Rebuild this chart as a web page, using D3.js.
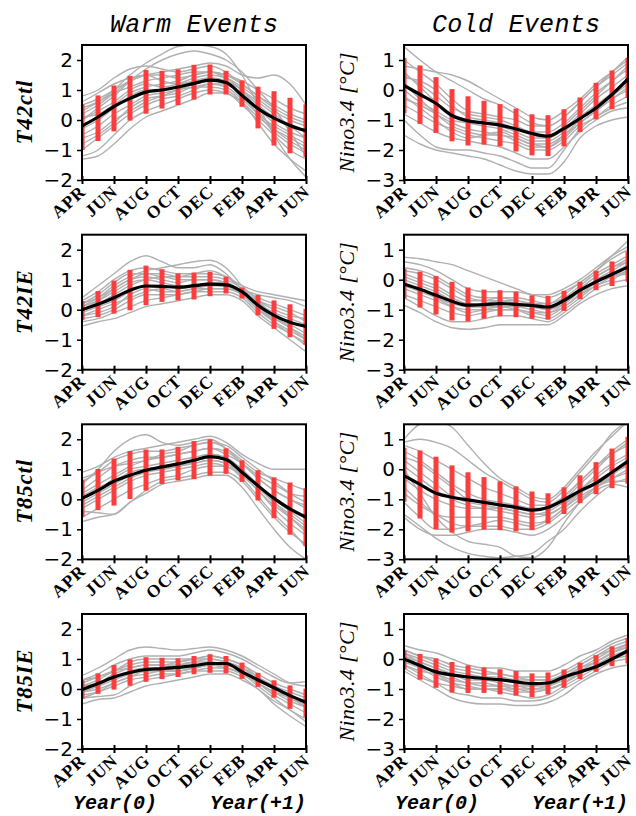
<!DOCTYPE html>
<html lang="en">
<head>
<meta charset="utf-8">
<title>Nino3.4 composites</title>
<script src="https://d3js.org/d3.v7.min.js"></script>
<style>
  body { margin: 0; background: #fff; }
  .tick text { font-family: "DejaVu Sans", sans-serif; }
</style>
</head>
<body>
<script>
// months from APR(0) to JUN(+1), one bar per month
var months = ["APR","MAY","JUN","JUL","AUG","SEP","OCT","NOV","DEC","JAN","FEB","MAR","APR","MAY","JUN"];
var tickLabels = ["APR","JUN","AUG","OCT","DEC","FEB","APR","JUN"];
var warmTicks = [-2, -1, 0, 1, 2];
var coldTicks = [-3, -2, -1, 0, 1];
var rowNames = ["T42ctl", "T42IE", "T85ctl", "T85IE"];
var colTitles = ["Warm Events", "Cold Events"];

// ---- T42ctl ----
var t42ctlWarmMean = [-0.2,0.1,0.45,0.72,0.93,1.0,1.1,1.22,1.33,1.25,0.82,0.38,0.06,-0.18,-0.36];
var t42ctlWarmHi   = [0.52,0.82,1.15,1.47,1.67,1.64,1.69,1.84,1.85,1.64,1.32,1.11,0.96,0.74,0.52];
var t42ctlWarmLo   = [-1.0,-0.7,-0.38,-0.02,0.21,0.38,0.5,0.68,0.85,0.85,0.44,-0.28,-0.85,-1.11,-1.24];
var t42ctlWarmMembers = [
  [0.3,0.6,1.0,1.5,1.9,2.2,2.45,2.5,2.45,2.2,1.5,0.5,-0.5,-1.3,-1.9],
  [0.5,0.7,1.0,1.3,1.5,1.6,1.7,1.8,1.9,1.8,1.5,1.4,1.5,1.2,0.5],
  [0.8,1.0,1.4,1.7,1.8,1.7,1.6,1.7,1.8,1.6,1.2,0.8,0.5,0.2,0.0],
  [-1.3,-1.2,-0.8,-0.3,0.1,0.3,0.5,0.7,0.9,0.9,0.5,0.0,-0.5,-1.0,-1.3],
  [-1.0,-0.6,-0.2,0.2,0.5,0.7,0.8,1.0,1.2,1.2,0.8,0.2,-0.4,-0.8,-1.1],
  [0.4,0.6,0.9,1.1,1.3,1.4,1.5,1.6,1.6,1.4,1.0,0.5,0.1,-0.2,-0.4],
  [-0.5,-0.2,0.2,0.5,0.8,0.9,1.0,1.2,1.3,1.2,0.9,0.4,-0.1,-0.4,-0.6],
  [0.0,0.3,0.6,1.0,1.2,1.1,1.2,1.4,1.5,1.4,1.1,0.7,0.3,0.0,-0.2],
  [-0.8,-0.5,-0.1,0.4,0.7,0.8,0.9,1.1,1.1,1.0,0.6,-0.1,-0.8,-1.3,-1.7],
  [0.2,0.5,0.9,1.3,1.5,1.3,1.2,1.3,1.4,1.3,1.0,0.6,0.2,-0.2,-0.6],
  [-0.3,0.0,0.4,0.8,1.0,1.0,1.1,1.3,1.4,1.3,1.0,0.3,-0.3,-0.7,-1.0],
  [0.6,0.9,1.2,1.4,1.5,1.5,1.4,1.5,1.6,1.5,1.3,1.0,0.7,0.4,0.2],
  [-1.2,-1.0,-0.5,0.0,0.3,0.5,0.7,0.9,1.0,0.9,0.6,0.1,-0.3,-0.6,-0.9],
  [0.0,0.4,0.8,1.3,1.7,2.0,2.2,2.3,2.2,2.0,1.6,1.0,0.4,-0.4,-1.2],
  [-0.6,-0.4,0.0,0.3,0.6,0.8,1.0,1.1,1.2,1.1,0.7,0.2,-0.2,-0.5,-0.8],
  [0.1,0.2,0.5,0.9,1.1,1.2,1.3,1.5,1.6,1.5,1.2,0.8,0.4,0.1,-0.1]
];
var t42ctlColdMean = [0.15,-0.15,-0.45,-0.85,-1.03,-1.1,-1.17,-1.3,-1.45,-1.54,-1.28,-0.95,-0.6,-0.15,0.37];
var t42ctlColdHi   = [1.07,0.82,0.43,0.03,-0.21,-0.36,-0.47,-0.62,-0.81,-0.84,-0.64,-0.25,0.24,0.65,1.07];
var t42ctlColdLo   = [-0.78,-1.13,-1.43,-1.71,-1.85,-1.82,-1.88,-2.05,-2.18,-2.2,-1.88,-1.4,-0.98,-0.64,-0.27];
var t42ctlColdMembers = [
  [1.45,1.0,0.6,0.3,0.0,-0.3,-0.5,-0.8,-1.1,-1.2,-0.9,-0.4,0.1,0.5,0.9],
  [0.8,0.7,0.6,0.5,0.3,0.0,-0.3,-0.6,-0.9,-1.0,-0.7,-0.3,0.2,0.6,1.0],
  [-1.5,-1.8,-2.0,-2.1,-2.2,-2.3,-2.5,-2.7,-2.8,-2.8,-2.4,-1.6,-1.2,-1.0,-0.9],
  [-1.0,-1.5,-1.9,-2.0,-2.0,-2.1,-2.2,-2.4,-2.6,-2.6,-2.0,-1.3,-0.9,-0.6,-0.4],
  [0.5,0.2,-0.2,-0.6,-0.8,-0.9,-1.0,-1.2,-1.4,-1.4,-1.1,-0.6,-0.1,0.3,0.7],
  [0.2,-0.3,-0.8,-1.2,-1.4,-1.5,-1.5,-1.7,-1.9,-1.9,-1.6,-1.1,-0.7,-0.3,0.1],
  [-0.5,-0.8,-1.1,-1.3,-1.5,-1.6,-1.7,-1.8,-2.0,-2.0,-1.7,-1.2,-0.9,-0.5,-0.2],
  [1.0,0.6,0.2,-0.3,-0.7,-0.8,-0.9,-1.0,-1.2,-1.2,-0.9,-0.4,0.1,0.6,1.1],
  [0.0,-0.4,-0.7,-1.0,-1.1,-1.2,-1.3,-1.5,-1.7,-1.7,-1.4,-0.9,-0.5,-0.1,0.3],
  [-0.2,-0.6,-1.0,-1.4,-1.6,-1.5,-1.4,-1.6,-1.8,-1.9,-1.5,-1.0,-0.6,-0.2,0.2],
  [0.4,0.3,0.0,-0.5,-0.9,-1.0,-1.1,-1.3,-1.5,-1.6,-1.3,-0.8,-0.3,0.1,0.5],
  [-0.8,-1.1,-1.4,-1.6,-1.7,-1.8,-1.9,-2.1,-2.3,-2.3,-1.9,-1.4,-1.0,-0.7,-0.6],
  [0.6,0.1,-0.4,-0.8,-1.0,-1.1,-1.2,-1.4,-1.6,-1.6,-1.2,-0.7,-0.2,0.3,0.8],
  [-0.3,-0.5,-0.8,-1.1,-1.3,-1.4,-1.5,-1.6,-1.8,-1.8,-1.5,-1.1,-0.7,-0.3,0.0]
];

// ---- T42IE ----
var t42ieWarmMean = [0.0,0.18,0.4,0.65,0.79,0.78,0.75,0.8,0.85,0.83,0.6,0.15,-0.19,-0.42,-0.56];
var t42ieWarmHi   = [0.29,0.62,0.97,1.33,1.47,1.35,1.21,1.24,1.26,1.1,0.74,0.49,0.31,0.18,0.03];
var t42ieWarmLo   = [-0.34,-0.25,-0.13,-0.02,0.15,0.26,0.31,0.34,0.45,0.54,0.37,-0.19,-0.64,-0.92,-1.17];
var t42ieWarmMembers = [
  [0.4,0.8,1.2,1.6,1.8,1.6,1.4,1.4,1.5,1.2,0.7,0.5,0.4,0.3,0.1],
  [0.1,0.4,0.8,1.1,1.3,1.4,1.5,1.6,1.65,1.4,0.8,0.3,-0.2,-0.6,-1.0],
  [-0.55,-0.4,-0.3,-0.1,0.1,0.2,0.3,0.4,0.5,0.5,0.3,-0.2,-0.6,-1.0,-1.4],
  [0.3,0.6,1.0,1.3,1.4,1.3,1.2,1.2,1.2,1.1,0.8,0.6,0.5,0.4,0.3],
  [-0.3,-0.2,0.0,0.3,0.5,0.5,0.5,0.6,0.7,0.7,0.5,0.0,-0.4,-0.7,-1.0],
  [0.2,0.4,0.7,1.0,1.1,1.0,0.9,1.0,1.0,0.9,0.6,0.2,-0.1,-0.3,-0.5],
  [-0.1,0.1,0.3,0.6,0.8,0.8,0.7,0.8,0.9,0.8,0.5,0.1,-0.3,-0.5,-0.8],
  [0.0,0.2,0.5,0.8,1.0,1.1,1.0,1.0,1.0,0.9,0.6,0.3,0.0,-0.2,-0.3],
  [-0.2,0.0,0.2,0.4,0.6,0.7,0.6,0.7,0.8,0.8,0.6,0.1,-0.4,-0.8,-1.1],
  [0.2,0.5,0.9,1.2,1.2,1.1,1.1,1.2,1.3,1.1,0.7,0.4,0.2,0.0,-0.2],
  [-0.4,-0.3,-0.1,0.1,0.3,0.4,0.5,0.6,0.6,0.6,0.4,-0.1,-0.5,-0.8,-1.2],
  [0.1,0.3,0.6,0.9,1.0,0.9,0.8,0.8,0.9,0.9,0.6,0.3,0.1,-0.1,-0.4],
  [0.0,0.3,0.7,1.0,1.2,1.2,1.1,1.1,1.1,1.0,0.7,0.2,-0.2,-0.4,-0.6],
  [-0.2,-0.1,0.1,0.5,0.7,0.6,0.6,0.7,0.7,0.7,0.5,0.0,-0.3,-0.6,-0.9]
];
var t42ieColdMean = [-0.15,-0.32,-0.52,-0.72,-0.85,-0.83,-0.8,-0.82,-0.86,-0.91,-0.69,-0.35,-0.07,0.18,0.42];
var t42ieColdHi   = [0.36,0.27,0.12,-0.07,-0.26,-0.33,-0.35,-0.4,-0.52,-0.54,-0.37,-0.07,0.3,0.61,0.94];
var t42ieColdLo   = [-0.63,-0.93,-1.16,-1.36,-1.39,-1.3,-1.22,-1.25,-1.3,-1.33,-1.04,-0.65,-0.35,-0.21,-0.07];
var t42ieColdMembers = [
  [0.75,0.7,0.6,0.5,0.3,0.1,-0.1,-0.3,-0.5,-0.6,-0.4,-0.1,0.3,0.8,1.3],
  [0.6,0.5,0.3,0.0,-0.3,-0.4,-0.4,-0.4,-0.5,-0.5,-0.3,0.0,0.4,0.8,1.1],
  [-0.85,-1.1,-1.4,-1.6,-1.65,-1.6,-1.5,-1.5,-1.5,-1.5,-1.2,-0.8,-0.5,-0.3,-0.2],
  [0.2,0.0,-0.2,-0.5,-0.7,-0.7,-0.6,-0.7,-0.8,-0.8,-0.6,-0.2,0.2,0.5,0.8],
  [-0.5,-0.7,-0.9,-1.1,-1.2,-1.1,-1.0,-1.0,-1.1,-1.2,-0.9,-0.5,-0.2,0.1,0.3],
  [0.0,-0.2,-0.4,-0.7,-0.9,-0.9,-0.8,-0.8,-0.9,-1.0,-0.8,-0.4,0.0,0.3,0.6],
  [-0.3,-0.5,-0.7,-0.9,-1.0,-1.0,-1.0,-1.0,-1.1,-1.1,-0.8,-0.4,-0.1,0.1,0.2],
  [0.3,0.2,0.0,-0.3,-0.6,-0.7,-0.7,-0.7,-0.8,-0.9,-0.7,-0.3,0.1,0.4,0.6],
  [-0.6,-0.9,-1.2,-1.4,-1.4,-1.3,-1.2,-1.2,-1.3,-1.4,-1.1,-0.7,-0.3,-0.1,0.0],
  [-0.1,-0.3,-0.6,-0.9,-1.1,-1.0,-0.9,-0.9,-1.0,-1.1,-0.9,-0.5,-0.1,0.2,0.5],
  [0.4,0.3,0.1,-0.2,-0.5,-0.6,-0.6,-0.6,-0.7,-0.8,-0.5,-0.1,0.3,0.7,1.0],
  [-0.2,-0.4,-0.6,-0.8,-0.9,-0.9,-0.9,-1.0,-1.2,-1.3,-1.0,-0.6,-0.2,0.0,0.3],
  [0.1,-0.1,-0.3,-0.6,-0.8,-0.8,-0.7,-0.8,-0.9,-1.0,-0.7,-0.3,0.1,0.4,0.7]
];

// ---- T85ctl ----
var t85ctlWarmMean = [0.03,0.3,0.6,0.8,0.97,1.08,1.18,1.3,1.42,1.33,0.9,0.45,0.03,-0.32,-0.6];
var t85ctlWarmHi   = [0.65,1.01,1.36,1.61,1.66,1.66,1.75,1.94,2.0,1.7,1.3,0.97,0.73,0.56,0.37];
var t85ctlWarmLo   = [-0.58,-0.36,-0.21,0.01,0.29,0.51,0.63,0.67,0.79,0.85,0.58,-0.04,-0.63,-1.18,-1.56];
var t85ctlWarmMembers = [
  [0.5,1.0,1.6,2.0,2.15,1.9,1.8,1.9,2.0,1.7,1.2,0.7,0.3,0.0,-0.3],
  [0.9,1.1,1.4,1.6,1.7,1.8,1.9,2.0,2.1,1.9,1.5,1.2,1.0,1.0,1.0],
  [-0.75,-0.6,-0.5,-0.1,0.2,0.5,0.6,0.7,0.8,0.8,0.4,-0.3,-1.0,-1.6,-2.0],
  [-0.4,-0.45,-0.5,-0.1,0.3,0.6,0.7,0.8,0.9,0.9,0.6,0.0,-0.6,-1.1,-1.5],
  [0.6,0.9,1.3,1.5,1.6,1.6,1.7,1.8,1.9,1.8,1.4,1.0,0.6,0.2,-0.1],
  [0.2,0.5,0.8,1.1,1.3,1.4,1.5,1.6,1.7,1.6,1.2,0.7,0.3,0.0,-0.2],
  [-0.3,0.0,0.3,0.6,0.8,0.9,1.0,1.1,1.2,1.1,0.8,0.3,-0.3,-0.8,-1.2],
  [0.0,0.3,0.7,1.0,1.1,1.2,1.3,1.4,1.5,1.4,1.0,0.5,0.0,-0.4,-0.8],
  [-0.6,-0.3,0.0,0.3,0.5,0.7,0.8,1.0,1.1,1.1,0.7,0.1,-0.5,-1.0,-1.6],
  [0.3,0.7,1.1,1.3,1.4,1.4,1.5,1.6,1.7,1.5,1.2,0.8,0.5,0.2,0.1],
  [-0.1,0.2,0.5,0.8,1.0,1.1,1.2,1.3,1.4,1.3,0.9,0.4,-0.1,-0.5,-0.9],
  [0.7,0.9,1.1,1.2,1.3,1.5,1.6,1.8,1.9,1.7,1.3,0.9,0.7,0.5,0.3],
  [0.1,0.4,0.6,0.9,1.0,1.0,1.1,1.2,1.3,1.2,0.9,0.4,-0.1,-0.6,-1.1],
  [-0.2,0.1,0.4,0.7,0.9,1.0,1.1,1.2,1.3,1.2,0.8,0.3,-0.2,-0.6,-1.0]
];
var t85ctlColdMean = [-0.21,-0.5,-0.8,-0.93,-1.02,-1.1,-1.19,-1.27,-1.36,-1.27,-1.02,-0.72,-0.46,-0.1,0.27];
var t85ctlColdHi   = [0.72,0.63,0.42,0.13,-0.1,-0.26,-0.4,-0.57,-0.74,-0.8,-0.6,-0.2,0.24,0.69,1.08];
var t85ctlColdLo   = [-1.08,-1.64,-2.0,-2.11,-2.07,-2.01,-2.03,-2.07,-2.03,-1.81,-1.49,-1.13,-0.83,-0.63,-0.48];
var t85ctlColdMembers = [
  [1.0,1.5,1.6,1.4,0.8,0.2,-0.3,-0.6,-0.9,-1.0,-0.6,0.0,0.6,1.1,1.6],
  [0.9,1.0,0.9,0.7,0.3,-0.1,-0.4,-0.7,-1.0,-1.1,-0.7,-0.1,0.5,1.2,1.6],
  [-1.5,-1.9,-2.3,-2.6,-2.8,-2.9,-2.95,-2.9,-2.8,-2.4,-2.0,-1.4,-0.9,-0.5,-0.3],
  [0.0,-0.8,-1.6,-2.1,-2.4,-2.5,-2.6,-2.9,-2.95,-2.6,-1.8,-1.1,-0.6,-0.2,0.2],
  [0.6,0.3,-0.1,-0.5,-0.8,-1.0,-1.1,-1.2,-1.3,-1.3,-1.0,-0.5,0.0,0.5,0.9],
  [-0.6,-1.1,-1.5,-1.8,-1.9,-1.9,-1.9,-2.0,-2.0,-1.8,-1.4,-1.0,-0.6,-0.3,0.0],
  [-1.1,-1.6,-2.0,-2.0,-1.9,-1.8,-1.7,-1.8,-1.9,-1.7,-1.3,-0.8,-0.4,-0.1,0.1],
  [0.3,-0.1,-0.5,-0.9,-1.1,-1.2,-1.3,-1.4,-1.5,-1.5,-1.2,-0.7,-0.2,0.2,0.5],
  [-0.3,-0.7,-1.0,-1.2,-1.3,-1.3,-1.3,-1.4,-1.5,-1.4,-1.1,-0.8,-0.5,-0.3,-0.1],
  [0.8,0.6,0.3,0.0,-0.3,-0.6,-0.8,-1.0,-1.2,-1.2,-0.9,-0.4,0.1,0.6,1.0],
  [-0.8,-1.2,-1.5,-1.6,-1.6,-1.6,-1.6,-1.7,-1.8,-1.7,-1.3,-0.9,-0.6,-0.4,-0.4],
  [0.4,0.2,-0.2,-0.6,-1.0,-1.1,-1.2,-1.3,-1.4,-1.3,-0.9,-0.4,0.1,0.5,0.8],
  [-1.6,-2.0,-2.2,-2.2,-2.1,-2.0,-2.0,-2.1,-2.2,-2.0,-1.6,-1.1,-0.7,-0.5,-0.6],
  [0.1,-0.3,-0.7,-1.0,-1.2,-1.3,-1.4,-1.5,-1.6,-1.5,-1.2,-0.7,-0.3,0.1,0.4]
];

// ---- T85IE ----
var t85ieWarmMean = [-0.02,0.18,0.4,0.55,0.65,0.68,0.72,0.78,0.85,0.85,0.57,0.3,0.04,-0.22,-0.44];
var t85ieWarmHi   = [0.29,0.52,0.8,0.99,1.06,1.04,1.02,1.1,1.16,1.1,0.88,0.54,0.29,0.12,0.01];
var t85ieWarmLo   = [-0.33,-0.16,-0.02,0.11,0.24,0.33,0.4,0.49,0.54,0.52,0.34,0.07,-0.29,-0.66,-0.94];
var t85ieWarmMembers = [
  [0.45,0.7,1.0,1.3,1.4,1.35,1.3,1.35,1.4,1.3,1.1,0.8,0.5,0.2,0.1],
  [-0.5,-0.35,-0.3,-0.1,0.1,0.2,0.3,0.4,0.5,0.5,0.3,0.0,-0.5,-0.9,-1.25],
  [0.3,0.5,0.8,1.0,1.1,1.1,1.1,1.2,1.3,1.2,1.0,0.7,0.4,0.2,0.25],
  [-0.2,-0.1,0.1,0.3,0.4,0.5,0.5,0.6,0.7,0.7,0.5,0.1,-0.3,-0.7,-1.0],
  [0.1,0.3,0.6,0.8,0.9,0.9,0.9,1.0,1.1,1.0,0.8,0.4,0.1,-0.2,-0.4],
  [-0.3,-0.1,0.2,0.4,0.6,0.6,0.7,0.7,0.8,0.8,0.6,0.2,-0.2,-0.5,-0.8],
  [0.2,0.4,0.6,0.7,0.8,0.8,0.8,0.9,1.0,0.9,0.7,0.4,0.1,-0.1,-0.3],
  [0.0,0.1,0.3,0.5,0.6,0.7,0.8,0.9,0.9,0.8,0.6,0.2,-0.1,-0.4,-0.6],
  [-0.1,0.1,0.4,0.6,0.7,0.6,0.6,0.7,0.8,0.8,0.6,0.3,0.0,-0.3,-0.5],
  [0.3,0.4,0.6,0.9,1.0,1.0,1.0,1.0,1.1,1.0,0.8,0.5,0.2,0.0,-0.2],
  [-0.3,-0.25,-0.2,0.1,0.3,0.4,0.5,0.6,0.6,0.6,0.4,0.0,-0.4,-0.7,-1.1],
  [0.1,0.2,0.5,0.7,0.8,0.8,0.9,1.0,1.0,0.9,0.7,0.3,0.0,-0.3,-0.5],
  [-0.1,0.0,0.2,0.4,0.5,0.6,0.6,0.7,0.8,0.7,0.5,0.2,-0.1,-0.3,-0.6]
];
var t85ieColdMean = [0.0,-0.22,-0.43,-0.53,-0.6,-0.65,-0.69,-0.76,-0.82,-0.8,-0.6,-0.43,-0.26,0.0,0.28];
var t85ieColdHi   = [0.28,0.17,0.02,-0.1,-0.21,-0.28,-0.34,-0.4,-0.48,-0.45,-0.35,-0.12,0.13,0.42,0.7];
var t85ieColdLo   = [-0.34,-0.69,-0.96,-1.12,-1.13,-1.13,-1.18,-1.22,-1.27,-1.18,-0.96,-0.67,-0.43,-0.24,-0.15];
var t85ieColdMembers = [
  [0.45,0.3,0.2,0.0,-0.2,-0.3,-0.3,-0.4,-0.4,-0.4,-0.2,0.1,0.3,0.6,0.8],
  [-0.4,-0.7,-1.0,-1.3,-1.45,-1.5,-1.5,-1.55,-1.55,-1.45,-1.2,-0.8,-0.5,-0.3,-0.2],
  [0.3,0.1,-0.1,-0.3,-0.4,-0.5,-0.5,-0.6,-0.6,-0.6,-0.4,-0.1,0.2,0.5,0.7],
  [-0.2,-0.5,-0.8,-1.1,-1.2,-1.3,-1.3,-1.4,-1.4,-1.3,-1.0,-0.7,-0.4,-0.1,0.0],
  [0.1,-0.1,-0.3,-0.5,-0.6,-0.7,-0.7,-0.8,-0.9,-0.8,-0.6,-0.3,0.0,0.3,0.5],
  [-0.1,-0.3,-0.6,-0.8,-0.9,-1.0,-1.0,-1.1,-1.1,-1.0,-0.8,-0.5,-0.2,0.1,0.3],
  [0.2,0.0,-0.2,-0.4,-0.5,-0.6,-0.6,-0.7,-0.7,-0.7,-0.5,-0.2,0.1,0.4,0.6],
  [-0.3,-0.6,-0.8,-0.9,-1.0,-1.0,-1.1,-1.2,-1.3,-1.2,-0.9,-0.6,-0.3,0.0,0.2],
  [0.0,-0.2,-0.4,-0.6,-0.8,-0.8,-0.9,-0.9,-1.0,-0.9,-0.7,-0.4,-0.1,0.2,0.4],
  [0.3,0.1,0.0,-0.2,-0.3,-0.4,-0.5,-0.6,-0.7,-0.7,-0.5,-0.2,0.1,0.3,0.5],
  [-0.2,-0.4,-0.5,-0.7,-0.8,-0.9,-0.9,-1.0,-1.0,-1.0,-0.8,-0.5,-0.2,0.0,0.1],
  [0.1,-0.2,-0.5,-0.8,-1.0,-1.0,-1.0,-1.0,-1.1,-1.0,-0.8,-0.4,-0.1,0.2,0.4],
  [0.2,-0.1,-0.3,-0.5,-0.7,-0.7,-0.8,-0.9,-0.9,-0.9,-0.6,-0.3,-0.1,0.2,0.5]
];

var panels = [
  {row: 0, col: 0, mean: t42ctlWarmMean, hi: t42ctlWarmHi, lo: t42ctlWarmLo, members: t42ctlWarmMembers},
  {row: 0, col: 1, mean: t42ctlColdMean, hi: t42ctlColdHi, lo: t42ctlColdLo, members: t42ctlColdMembers},
  {row: 1, col: 0, mean: t42ieWarmMean, hi: t42ieWarmHi, lo: t42ieWarmLo, members: t42ieWarmMembers},
  {row: 1, col: 1, mean: t42ieColdMean, hi: t42ieColdHi, lo: t42ieColdLo, members: t42ieColdMembers},
  {row: 2, col: 0, mean: t85ctlWarmMean, hi: t85ctlWarmHi, lo: t85ctlWarmLo, members: t85ctlWarmMembers},
  {row: 2, col: 1, mean: t85ctlColdMean, hi: t85ctlColdHi, lo: t85ctlColdLo, members: t85ctlColdMembers},
  {row: 3, col: 0, mean: t85ieWarmMean, hi: t85ieWarmHi, lo: t85ieWarmLo, members: t85ieWarmMembers},
  {row: 3, col: 1, mean: t85ieColdMean, hi: t85ieColdHi, lo: t85ieColdLo, members: t85ieColdMembers}
];

var W = 636, H = 816;
var pw = 224, ph = 135;
var colX = [82, 404];
var rowY = [45, 234.7, 424.3, 614];

var svg = d3.select("body").append("svg")
    .attr("width", W)
    .attr("height", H);

var x = d3.scaleLinear().domain([0, months.length - 1]).range([0, pw]);

var line = d3.line()
    .x(function(d, i) { return x(i); })
    .curve(d3.curveMonotoneX);

panels.forEach(function(p, k) {
    var y = d3.scaleLinear()
        .domain(p.col == 0 ? [-2, 2.5] : [-3, 1.5])
        .range([ph, 0]);
    line.y(function(d) { return y(d); });

    var g = svg.append("g")
        .attr("transform", "translate(" + colX[p.col] + "," + rowY[p.row] + ")");

    g.append("clipPath").attr("id", "clip" + k)
        .append("rect").attr("width", pw).attr("height", ph);

    var inner = g.append("g").attr("clip-path", "url(#clip" + k + ")");

    inner.selectAll(".member")
        .data(p.members)
        .enter().append("path")
        .attr("class", "member")
        .attr("d", line)
        .attr("fill", "none")
        .attr("stroke", "#b0b0b0")
        .attr("stroke-width", 1.4);

    inner.selectAll(".bar")
        .data(p.hi)
        .enter().append("rect")
        .attr("class", "bar")
        .attr("x", function(d, i) { return x(i) - 2.5; })
        .attr("width", 5)
        .attr("y", function(d) { return y(d); })
        .attr("height", function(d, i) { return y(p.lo[i]) - y(d); })
        .attr("fill", "#ff3c3c");

    inner.append("path")
        .datum(p.mean)
        .attr("d", line)
        .attr("fill", "none")
        .attr("stroke", "#000")
        .attr("stroke-width", 3.2);

    // y axis
    var ya = g.append("g")
        .call(d3.axisLeft(y)
            .tickValues(p.col == 0 ? warmTicks : coldTicks)
            .tickSize(5).tickPadding(4)
            .tickFormat(function(d) { return d < 0 ? "\u2212" + Math.abs(d) : d; }));
    ya.select(".domain").remove();
    ya.selectAll(".tick line").attr("stroke-width", 1.5);
    ya.selectAll(".tick text").attr("font-size", 20).attr("fill", "#000");

    // x axis ticks (cross both sides) and rotated month labels
    var tv = d3.range(0, months.length, 2);
    var xa = g.append("g")
        .attr("transform", "translate(0," + ph + ")")
        .call(d3.axisBottom(x).tickValues(tv).tickSize(4).tickFormat(""));
    xa.select(".domain").remove();
    xa.selectAll(".tick line").attr("stroke-width", 2);
    var xb = g.append("g")
        .attr("transform", "translate(0," + ph + ")")
        .call(d3.axisBottom(x).tickValues(tv).tickSize(-4).tickFormat(""));
    xb.select(".domain").remove();
    xb.selectAll(".tick line").attr("stroke-width", 2);

    g.selectAll(".mlabel")
        .data(tickLabels)
        .enter().append("text")
        .attr("class", "mlabel")
        .attr("transform", function(d, i) {
            return "translate(" + (x(tv[i]) + 5) + "," + (ph + 13) + ") rotate(-42)";
        })
        .attr("text-anchor", "end")
        .attr("font-family", "Liberation Serif, serif")
        .attr("font-weight", "bold")
        .attr("font-size", 17.5)
        .attr("letter-spacing", 1)
        .text(function(d) { return d; });

    g.append("rect")
        .attr("width", pw).attr("height", ph)
        .attr("fill", "none")
        .attr("stroke", "#000")
        .attr("stroke-width", 2);

    // y axis title
    if (p.col == 0) {
        g.append("text")
            .attr("transform", "translate(-50," + (ph / 2) + ") rotate(-90)")
            .attr("text-anchor", "middle")
            .attr("font-family", "Liberation Serif, serif")
            .attr("font-style", "italic")
            .attr("font-weight", "bold")
            .attr("font-size", 23)
            .attr("textLength", 64)
            .text(rowNames[p.row]);
    } else {
        g.append("text")
            .attr("transform", "translate(-50," + (ph / 2) + ") rotate(-90)")
            .attr("text-anchor", "middle")
            .attr("font-family", "Liberation Serif, serif")
            .attr("font-style", "italic")
            .attr("font-size", 22)
            .attr("textLength", 120)
            .text("Nino3.4 [\u00B0C]");
    }
});

// column titles
colTitles.forEach(function(t, c) {
    svg.append("text")
        .attr("x", colX[c] + pw / 2)
        .attr("y", 32)
        .attr("text-anchor", "middle")
        .attr("font-family", "Liberation Mono, monospace")
        .attr("font-style", "italic")
        .attr("font-size", 25)
        .attr("textLength", 168)
        .text(t);

    svg.append("text")
        .attr("x", colX[c] - 9)
        .attr("y", 809)
        .attr("font-family", "Liberation Mono, monospace")
        .attr("font-style", "italic")
        .attr("font-weight", "bold")
        .attr("font-size", 20)
        .attr("textLength", 84)
        .text("Year(0)");

    svg.append("text")
        .attr("x", colX[c] + pw)
        .attr("y", 809)
        .attr("text-anchor", "end")
        .attr("font-family", "Liberation Mono, monospace")
        .attr("font-style", "italic")
        .attr("font-weight", "bold")
        .attr("font-size", 20)
        .text("Year(+1)");
});
</script>
</body>
</html>
